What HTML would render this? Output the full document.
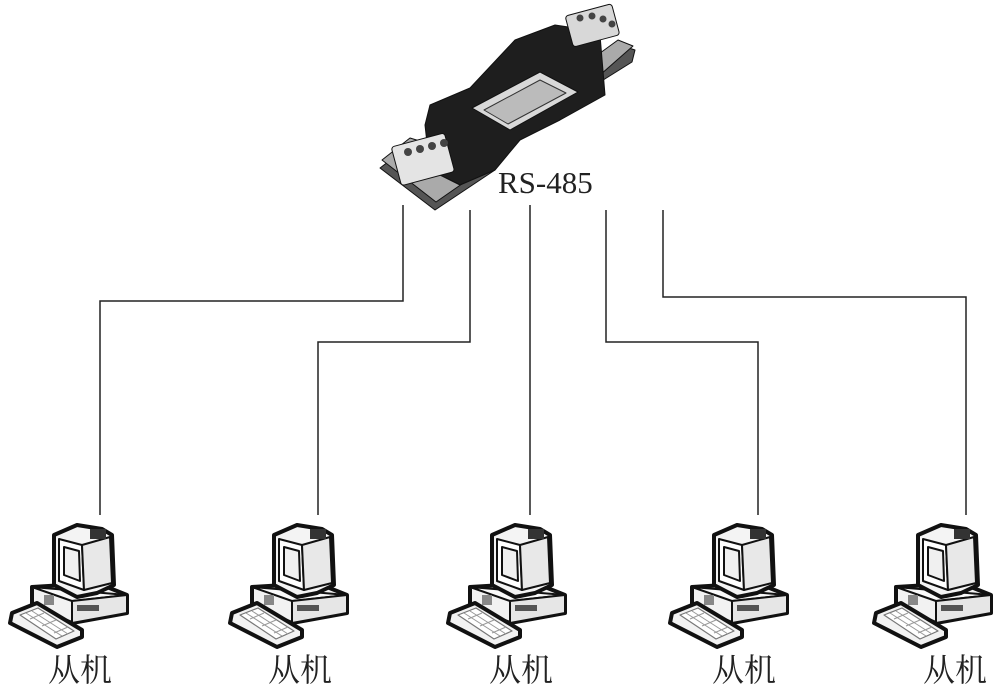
<!DOCTYPE html>
<html><head><meta charset="utf-8"><style>
body{margin:0;background:#fff}
svg{display:block}
text{font-family:"Liberation Serif","Noto Serif CJK SC",serif;fill:#222}
</style></head><body>
<svg width="1006" height="692" viewBox="0 0 1006 692" xmlns="http://www.w3.org/2000/svg">
<defs>
<g id="pc" stroke="#111" stroke-linejoin="round">
  <polygon points="30,72 95,68 125,80 125,98 70,108 30,92" fill="#f2f2f2" stroke-width="4"/>
  <polygon points="30,72 70,86 125,80" fill="#fafafa" stroke-width="2"/>
  <polygon points="70,86 125,80 125,98 70,108" fill="#e6e6e6" stroke-width="2"/>
  <rect x="42" y="80" width="10" height="10" fill="#888" stroke="none"/>
  <rect x="75" y="90" width="22" height="6" fill="#555" stroke="none"/>
  <polygon points="52,20 75,10 100,14 110,20 112,70 95,78 75,82 52,70" fill="#f4f4f4" stroke-width="4"/>
  <polygon points="57,24 80,30 82,75 57,66" fill="#fff" stroke-width="2"/>
  <polygon points="62,32 77,36 78,66 62,60" fill="#f0f0f0" stroke-width="2"/>
  <polygon points="80,30 108,22 110,68 82,75" fill="#e8e8e8" stroke-width="2"/>
  <rect x="88" y="14" width="16" height="10" fill="#333" stroke="none"/>
  <polygon points="10,98 35,88 80,115 80,122 55,132 8,108" fill="#f2f2f2" stroke-width="4"/>
  <polygon points="18,100 36,93 72,116 54,124" fill="#fff" stroke="#777" stroke-width="1.2"/>
  <g stroke="#999" stroke-width="1">
    <line x1="24" y1="98" x2="60" y2="121"/><line x1="30" y1="96" x2="66" y2="119"/>
    <line x1="28" y1="104" x2="42" y2="98"/><line x1="40" y1="111" x2="54" y2="105"/><line x1="52" y1="118" x2="66" y2="112"/>
  </g>
</g>
</defs>

<g fill="none" stroke="#222" stroke-width="1.5">
  <polyline points="403,205 403,301 100,301 100,515"/>
  <polyline points="470,210 470,342 318,342 318,515"/>
  <polyline points="530,205 530,515"/>
  <polyline points="606,210 606,342 758,342 758,515"/>
  <polyline points="663,210 663,297 966,297 966,515"/>
</g>

<!-- device -->
<g stroke="#111" stroke-linejoin="round">
  <polygon points="380,168 410,145 495,170 435,210" fill="#555"/>
  <polygon points="382,160 410,138 492,163 436,202" fill="#aaa"/>
  <polygon points="585,70 620,45 635,50 632,62 600,82" fill="#555"/>
  <polygon points="585,64 618,40 633,46 600,75" fill="#aaa"/>
  <polygon points="430,105 470,88 515,40 555,25 575,28 600,35 605,95 560,120 520,140 495,170 460,185 430,170 425,125" fill="#1e1e1e"/>
  <polygon points="472,108 540,72 578,92 510,130" fill="#d8d8d8"/>
  <polygon points="484,110 540,80 566,93 508,124" fill="#bbb" stroke="#333" stroke-width="1"/>
  <rect x="395" y="140" width="55" height="40" rx="3" fill="#e4e4e4" transform="rotate(-15 420 158)"/>
  <g fill="#444" stroke="none">
    <circle cx="408" cy="152" r="4"/><circle cx="420" cy="149" r="4"/><circle cx="432" cy="146" r="4"/><circle cx="444" cy="143" r="4"/>
  </g>
  <rect x="568" y="10" width="48" height="32" rx="3" fill="#d8d8d8" transform="rotate(-15 590 24)"/>
  <g fill="#444" stroke="none">
    <circle cx="580" cy="18" r="3.5"/><circle cx="592" cy="16" r="3.5"/><circle cx="603" cy="19" r="3.5"/><circle cx="612" cy="24" r="3.5"/>
  </g>
</g>
<text x="498" y="193" font-size="31">RS-485</text>

<use href="#pc" x="2" y="515"/>
<use href="#pc" x="222" y="515"/>
<use href="#pc" x="440" y="515"/>
<use href="#pc" x="662" y="515"/>
<use href="#pc" x="866" y="515"/>

<g font-size="32" text-anchor="middle">
  <text x="80" y="681">从机</text>
  <text x="300" y="681">从机</text>
  <text x="521" y="681">从机</text>
  <text x="744" y="681">从机</text>
  <text x="955" y="681">从机</text>
</g>
</svg>
</body></html>
